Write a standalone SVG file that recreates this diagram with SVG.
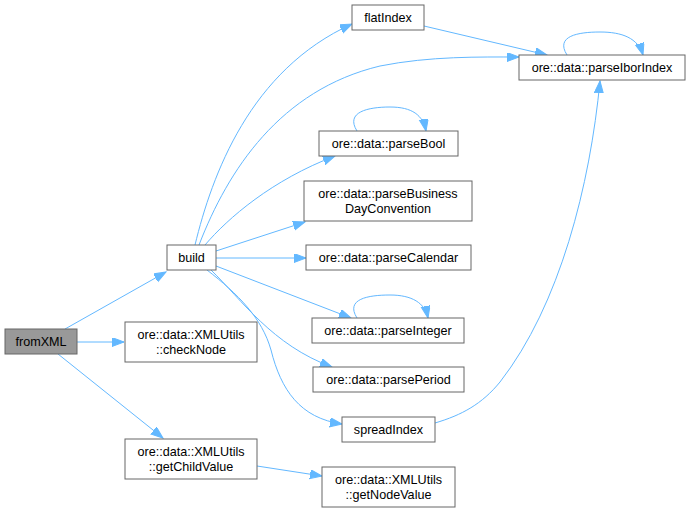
<svg xmlns="http://www.w3.org/2000/svg" width="691" height="513" viewBox="0 0 691 513">
<style>
.n rect{fill:#fff;stroke:#666;stroke-width:1}
.n.cur rect{fill:#999}
.n text{font-family:"Liberation Sans",Arial,sans-serif;font-size:12.6px;fill:#000;text-anchor:middle}
.e path{fill:none;stroke:#63b8ff;stroke-width:1}
</style>
<defs>
<marker id="a" markerUnits="userSpaceOnUse" markerWidth="13" markerHeight="10" refX="12" refY="4.5" orient="auto">
<path d="M0,0 L12,4.5 L0,9 z" fill="#63b8ff" stroke="#63b8ff" stroke-width="1"/>
</marker>
</defs>
<rect width="691" height="513" fill="#fff"/>
<g id="edges" class="e">
<path marker-end="url(#a)" d="M65,329 L166,272"/>
<path marker-end="url(#a)" d="M77,342 L124,342"/>
<path marker-end="url(#a)" d="M58,354 L163,438"/>
<path marker-end="url(#a)" d="M195,245 C212,175 250,70 352,24"/>
<path marker-end="url(#a)" d="M199,245 C228,170 280,90 380,66 C430,56 480,57 519,57"/>
<path marker-end="url(#a)" d="M205,245 C228,218 272,180 335,156"/>
<path marker-end="url(#a)" d="M216,251 L305,222"/>
<path marker-end="url(#a)" d="M216,258 L306,258"/>
<path marker-end="url(#a)" d="M216,266 L351,318"/>
<path marker-end="url(#a)" d="M211,270 C242,300 272,345 332,367"/>
<path marker-end="url(#a)" d="M207,270 C238,294 262,318 271,350 C281,390 300,418 342,424"/>
<path marker-end="url(#a)" d="M424,26 L547,55"/>
<path marker-end="url(#a)" d="M567,55 C555,36 578,32 600,32 C622,32 638,38 643,55"/>
<path marker-end="url(#a)" d="M357,131 C345,112 368,107 390,107 C412,107 423,115 426,131"/>
<path marker-end="url(#a)" d="M357,318 C345,299 368,295 390,295 C412,295 425,303 428,318"/>
<path marker-end="url(#a)" d="M435,423 C462,415 482,404 500,382 C560,305 590,185 600,81"/>
<path marker-end="url(#a)" d="M257,466 L322,476"/>
</g>
<g id="fromXML" class="n cur"><rect x="5" y="329" width="72" height="25"/><text x="41" y="346">fromXML</text></g>
<g id="build" class="n"><rect x="167" y="245" width="49" height="25"/><text x="191.5" y="262">build</text></g>
<g id="checkNode" class="n"><rect x="125" y="322" width="132" height="40"/><text x="191" y="338.5">ore::data::XMLUtils</text><text x="191" y="353.5">::checkNode</text></g>
<g id="getChildValue" class="n"><rect x="125" y="439" width="132" height="40"/><text x="191" y="455.5">ore::data::XMLUtils</text><text x="191" y="470.5">::getChildValue</text></g>
<g id="flatIndex" class="n"><rect x="352" y="5" width="72" height="25"/><text x="388" y="22">flatIndex</text></g>
<g id="parseIborIndex" class="n"><rect x="519" y="55" width="166" height="25"/><text x="602" y="72">ore::data::parseIborIndex</text></g>
<g id="parseBool" class="n"><rect x="319" y="131" width="139" height="25"/><text x="388.5" y="148">ore::data::parseBool</text></g>
<g id="parseBusinessDayConvention" class="n"><rect x="304" y="181" width="168" height="40"/><text x="388" y="197.5">ore::data::parseBusiness</text><text x="388" y="212.5">DayConvention</text></g>
<g id="parseCalendar" class="n"><rect x="306" y="245" width="165" height="25"/><text x="388.5" y="262">ore::data::parseCalendar</text></g>
<g id="parseInteger" class="n"><rect x="312" y="318" width="152" height="25"/><text x="388" y="335">ore::data::parseInteger</text></g>
<g id="parsePeriod" class="n"><rect x="313" y="367" width="151" height="25"/><text x="388.5" y="384">ore::data::parsePeriod</text></g>
<g id="spreadIndex" class="n"><rect x="342" y="417" width="93" height="25"/><text x="388.5" y="434">spreadIndex</text></g>
<g id="getNodeValue" class="n"><rect x="322" y="467" width="133" height="40"/><text x="388.5" y="483.5">ore::data::XMLUtils</text><text x="388.5" y="498.5">::getNodeValue</text></g>
</svg>
